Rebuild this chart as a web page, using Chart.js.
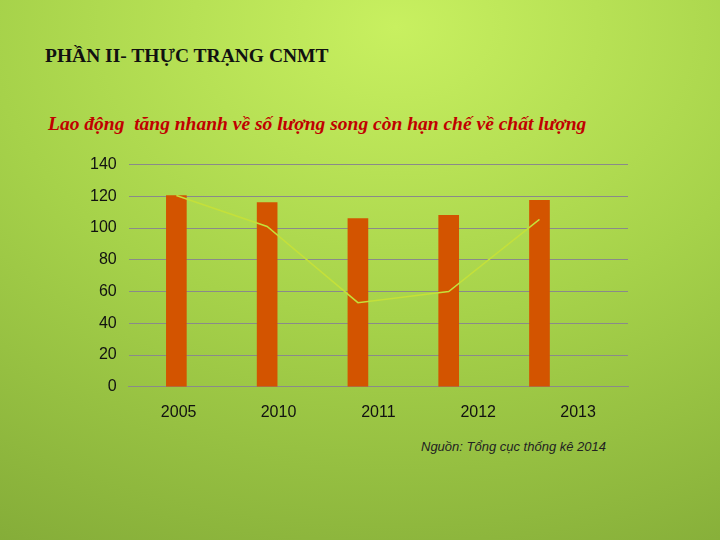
<!DOCTYPE html>
<html><head><meta charset="utf-8">
<script src="https://cdn.jsdelivr.net/npm/chart.js@4"></script>
<style>
body{margin:0;width:720px;height:540px;overflow:hidden;background:radial-gradient(ellipse 900px 650px at 55% 5%,#c8f060 0%,#a6d24a 45%,#7ea535 100%);font-family:"Liberation Serif",serif;position:relative}
#t{position:absolute;left:45px;top:45px;font-size:19.5px;font-weight:bold;color:#111}
#s{position:absolute;left:48px;top:113px;font-size:19.5px;font-weight:bold;font-style:italic;color:#c00000}
#src{position:absolute;left:421px;top:439px;font-size:13px;font-style:italic;font-family:"Liberation Sans",sans-serif;color:#222}
#w{position:absolute;left:60px;top:143px;width:590px;height:287px}
</style></head><body>
<div id="t">PHẦN II- THỰC TRẠNG CNMT</div>
<div id="s">Lao động &nbsp;tăng nhanh về số lượng song còn hạn chế về chất lượng</div>
<div id="src">Nguồn: Tổng cục thống kê 2014</div>
<div id="w"><canvas id="c"></canvas></div>
<script>
const categories=["2005","2010","2011","2012","2013"];
const barValues=[120.5,116,106,108,117.5];
const lineValues=[120.5,101,53,60,105.5];
const yTicks=[0,20,40,60,80,100,120,140];
new Chart(document.getElementById('c'),{
 type:'bar',
 data:{labels:categories,datasets:[
  {type:'line',data:lineValues.map((v,i)=>({x:i-0.225,y:v})),borderColor:'#c4e03a',borderWidth:1.5,pointRadius:0,xAxisID:'x2',tension:0,order:0},
  {type:'bar',data:barValues.map((v,i)=>({x:i-0.225,y:v})),backgroundColor:'#d35400',barThickness:20,xAxisID:'x2',order:1}
 ]},
 options:{responsive:true,maintainAspectRatio:false,animation:false,
  layout:{padding:{left:18,right:22,top:14,bottom:0}},
  plugins:{legend:{display:false},tooltip:{enabled:false}},
  scales:{
   x:{type:'category',labels:categories,grid:{display:false},border:{color:'#8a8a8a'},ticks:{color:'#111',font:{family:'Liberation Sans',size:16},padding:8}},
   x2:{type:'linear',display:false,min:-0.5,max:4.5},
   y:{min:0,max:140,afterBuildTicks:a=>{a.ticks=yTicks.map(v=>({value:v}))},
      grid:{color:'#8a8a8a',drawTicks:false},border:{display:false},
      ticks:{color:'#111',font:{family:'Liberation Sans',size:16},padding:12}}
  }}
});
</script></body></html>
